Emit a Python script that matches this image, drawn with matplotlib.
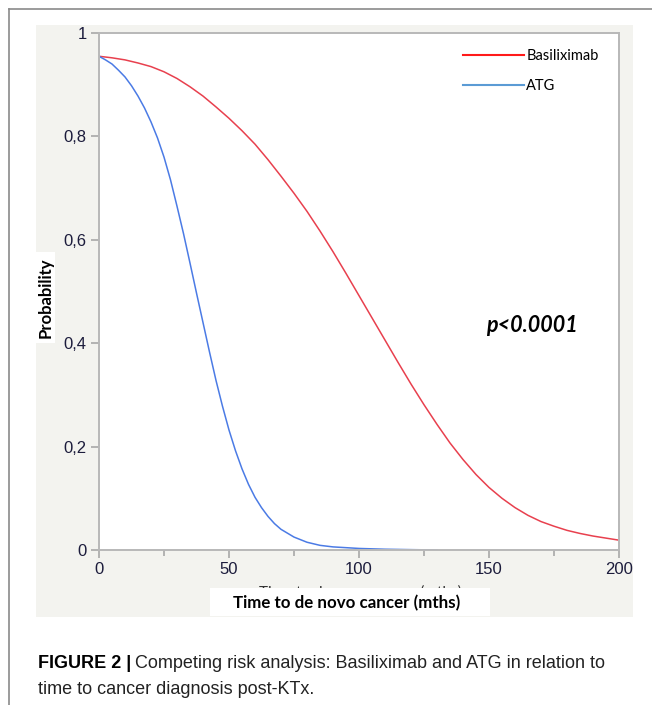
import numpy as np
import matplotlib.pyplot as plt
from matplotlib.patches import Rectangle
from matplotlib.lines import Line2D

# data
t_basi = [0, 5, 10, 15, 20, 25, 30, 35, 40, 45, 50, 55, 60, 65, 70, 75, 80,
          85, 90, 95, 100, 105, 110, 115, 120, 125, 130, 135, 140, 145, 150,
          155, 160, 165, 170, 175, 180, 185, 190, 195, 200]
p_basi = [0.955, 0.952, 0.948, 0.942, 0.935, 0.925, 0.912, 0.896, 0.878,
          0.857, 0.835, 0.811, 0.785, 0.755, 0.723, 0.690, 0.655, 0.617,
          0.577, 0.535, 0.492, 0.449, 0.406, 0.363, 0.321, 0.281, 0.243,
          0.207, 0.175, 0.146, 0.121, 0.100, 0.082, 0.067, 0.055, 0.046,
          0.038, 0.032, 0.027, 0.023, 0.019]

t_atg = [0, 2.5, 5, 7.5, 10, 12.5, 15, 17.5, 20, 22.5, 25, 27.5, 30, 32.5,
         35, 37.5, 40, 42.5, 45, 47.5, 50, 52.5, 55, 57.5, 60, 62.5, 65, 67.5,
         70, 75, 80, 85, 90, 100, 110, 120, 130]
p_atg = [0.955, 0.948, 0.940, 0.928, 0.915, 0.898, 0.878, 0.855, 0.828,
         0.797, 0.760, 0.716, 0.665, 0.612, 0.555, 0.497, 0.440, 0.383,
         0.328, 0.278, 0.232, 0.192, 0.157, 0.127, 0.102, 0.082, 0.065,
         0.051, 0.040, 0.025, 0.015, 0.009, 0.006, 0.003, 0.0015, 0.0007, 0.0]

xticks = [0, 50, 100, 150, 200]
yticks = [0, 0.2, 0.4, 0.6, 0.8, 1]
ylabels = ["0", "0,2", "0,4", "0,6", "0,8", "1"]

W, H = 652, 705
fig = plt.figure(figsize=(W / 100, H / 100), dpi=100)

# outer frame of the page figure
fig.add_artist(Line2D([9 / W, 1], [1 - 9 / H, 1 - 9 / H], color="#8a8a8a", lw=1.2))
fig.add_artist(Line2D([9 / W, 9 / W], [0, 1 - 9 / H], color="#8a8a8a", lw=1.2))

# grey panel behind the plot
fig.add_artist(Rectangle((36 / W, 1 - 617 / H), (633 - 36) / W, (617 - 25) / H,
                         facecolor="#f3f3ef", edgecolor="none", zorder=0))

ax = fig.add_axes([99 / W, 1 - 550 / H, 520 / W, 517 / H])
ax.set_facecolor("white")
ax.plot(t_basi, p_basi, color="#e8404e", lw=1.1)
ax.plot(t_atg, p_atg, color="#4b7be5", lw=1.1)

ax.set_xlim(0, 200)
ax.set_ylim(0, 1)
ax.set_xticks(xticks)
ax.set_xticks([25, 75, 125, 175], minor=True)
ax.set_yticks(yticks)
ax.set_yticklabels(ylabels)
for s in ax.spines.values():
    s.set_color("#b8b8b8")
    s.set_linewidth(1.4)
ax.tick_params(which="major", length=6, width=1.2, color="#a8a8a8",
               labelsize=12, labelcolor="#1c1c3c", pad=3)
ax.tick_params(which="minor", axis="x", length=4, width=1.2, color="#a8a8a8")
for lab in ax.get_xticklabels() + ax.get_yticklabels():
    lab.set_family("Liberation Sans")

legend_handles = [Line2D([], [], color="#ff1a1a", lw=1.5),
                  Line2D([], [], color="#5b9bd5", lw=1.5)]
leg = ax.legend(legend_handles, ["Basiliximab", "ATG"], loc="upper left",
                bbox_to_anchor=(0.675, 0.995), frameon=False,
                prop={"family": "Lato", "size": 10.5},
                handlelength=4.2, handletextpad=0.12, labelspacing=1.15)

ax.text(149, 0.435, "p<0.0001", fontsize=15.5, fontweight="bold",
        fontstyle="italic", family="Lato", va="center", ha="left")

# axis titles on white boxes (covering the original x title)
fig.text(360 / W, 1 - 593 / H, "Time to de novo cancer (mths)", ha="center",
         va="center", fontsize=11, family="Lato", color="#333333")
fig.add_artist(Rectangle((210 / W, 1 - 616 / H), 280 / W, 28 / H,
                         facecolor="white", edgecolor="none", zorder=5))
fig.text(347 / W, 1 - 603 / H, "Time to de novo cancer (mths)", ha="center",
         va="center", fontsize=12.2, fontweight="bold", family="Lato", zorder=6)
fig.add_artist(Rectangle((36 / W, 1 - 343 / H), 19 / W, 91 / H,
                         facecolor="white", edgecolor="none", zorder=5))
fig.text(46 / W, 1 - 298 / H, "Probability", rotation=90, ha="center",
         va="center", fontsize=12, fontweight="bold", family="Lato", zorder=6)

# caption
cap_font = ["Liberation Sans Narrow", "Liberation Sans"]
t1 = fig.text(38 / W, 1 - 664 / H, "FIGURE 2 |", fontsize=13, fontweight="bold",
              family=cap_font, va="center", ha="left")
r = fig.canvas.get_renderer()
bb = t1.get_window_extent(renderer=r)
fig.text((bb.x1 + 4) / W, 1 - 664 / H,
         "Competing risk analysis: Basiliximab and ATG in relation to",
         fontsize=13, family=cap_font, va="center", ha="left", color="#222222")
fig.text(38 / W, 1 - 690 / H, "time to cancer diagnosis post-KTx.",
         fontsize=13, family=cap_font, va="center", ha="left", color="#222222")

fig.savefig("out.png", dpi=100)
